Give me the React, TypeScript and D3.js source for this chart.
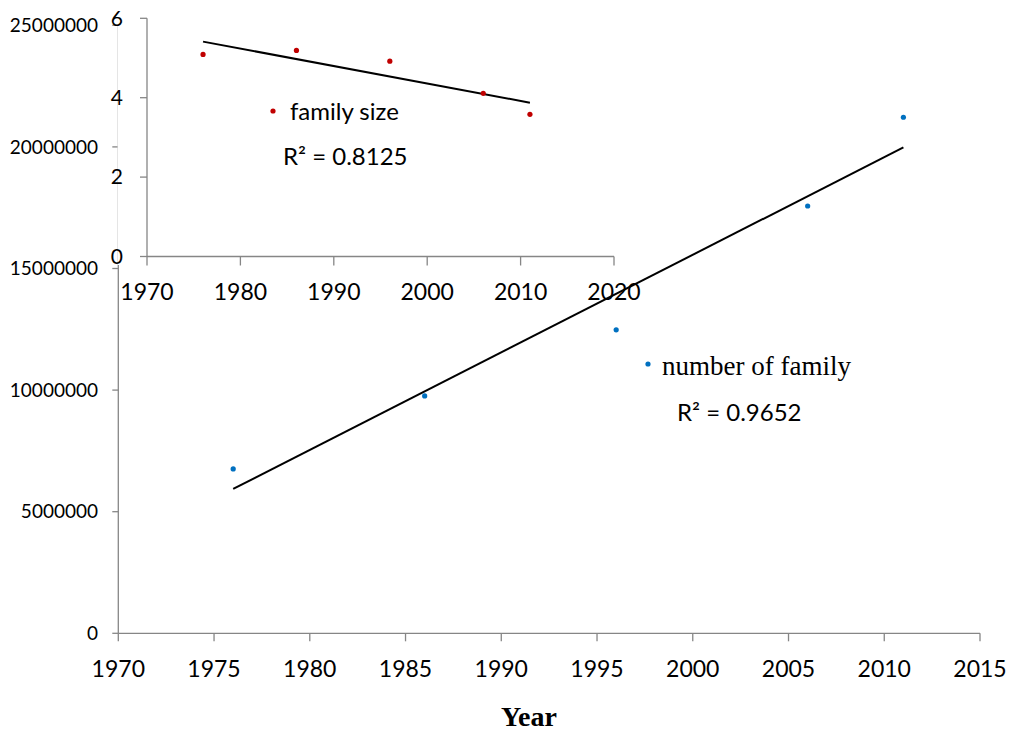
import React from "react";
import * as d3 from "d3";

const years = [1976, 1986, 1996, 2006, 2011];
const numberOfFamily = [6760000, 9760000, 12480000, 17570000, 21220000];
const familySize = [5.09, 5.19, 4.92, 4.11, 3.58];

const mainXTicks = [1970, 1975, 1980, 1985, 1990, 1995, 2000, 2005, 2010, 2015];
const mainYTicks = [0, 5000000, 10000000, 15000000, 20000000, 25000000];
const insetXTicks = [1970, 1980, 1990, 2000, 2010, 2020];
const insetYTicks = [0, 2, 4, 6];

const W = 1010;
const H = 734;
const AXIS = "#868686";
const SANS = "Lato, 'Open Sans', sans-serif";
const SERIF = "'Liberation Serif', 'Times New Roman', serif";

function fit(xs: number[], ys: number[]) {
  const mx = d3.mean(xs) as number;
  const my = d3.mean(ys) as number;
  let sxy = 0, sxx = 0;
  xs.forEach((x, i) => {
    sxy += (x - mx) * (ys[i] - my);
    sxx += (x - mx) * (x - mx);
  });
  const b = sxy / sxx;
  const a = my - b * mx;
  return (x: number) => a + b * x;
}

export default function App() {
  const x = d3.scaleLinear().domain([1970, 2015]).range([118.3, 980]);
  const y = d3.scaleLinear().domain([0, 25000000]).range([633.3, 25.3]);
  const ix = d3.scaleLinear().domain([1970, 2020]).range([147, 614]);
  const iy = d3.scaleLinear().domain([0, 6]).range([256.5, 18.3]);

  const mainFit = fit(years, numberOfFamily);
  const insetFit = fit(years, familySize);
  const x0 = years[0];
  const x1 = years[years.length - 1];
  const line = d3.line<[number, number]>();

  const mainTrend = line([
    [x(x0), y(mainFit(x0))],
    [x(x1), y(mainFit(x1))],
  ]) as string;
  const insetTrend = line([
    [ix(x0), iy(insetFit(x0))],
    [ix(x1), iy(insetFit(x1))],
  ]) as string;

  return (
    <svg
      width={W}
      height={H}
      style={{ position: "absolute", left: 0, top: 0, background: "#fff" }}
    >
      <rect x={0} y={0} width={W} height={H} fill="#fff" />
      {/* main axes */}
      <g>
        <line x1={x(1970)} x2={x(2015)} y1={y(0)} y2={y(0)} stroke={AXIS} strokeWidth={1.3} />
        <line x1={x(1970)} x2={x(1970)} y1={y(0)} y2={y(25000000)} stroke={AXIS} strokeWidth={1.3} />
        {mainXTicks.map((t) => (
          <g key={"mx" + t}>
            <line x1={x(t)} x2={x(t)} y1={y(0)} y2={y(0) + 8} stroke={AXIS} strokeWidth={1.3} />
            <text x={x(t)} y={677} textAnchor="middle" fontFamily={SANS} fontSize={23} fill="#000">
              {t}
            </text>
          </g>
        ))}
        {mainYTicks.map((t) => (
          <g key={"my" + t}>
            <line x1={x(1970) - 6} x2={x(1970)} y1={y(t)} y2={y(t)} stroke={AXIS} strokeWidth={1.3} />
            <text x={98} y={y(t)} dy="0.35em" textAnchor="end" fontFamily={SANS} fontSize={19} fill="#000">
              {String(t)}
            </text>
          </g>
        ))}
      </g>
      {/* main data */}
      <path d={mainTrend} stroke="#000" strokeWidth={2} fill="none" />
      {years.map((yr, i) => (
        <circle key={"b" + yr} cx={x(yr)} cy={y(numberOfFamily[i])} r={2.6} fill="#0070C0" />
      ))}
      <circle cx={648} cy={364} r={2.6} fill="#0070C0" />
      <text x={662} y={375} fontFamily={SERIF} fontSize={27} fill="#000">
        number of family
      </text>
      <text x={677} y={421} fontFamily={SANS} fontSize={24} fill="#000">
        R² = 0.9652
      </text>
      <text x={529} y={726} textAnchor="middle" fontFamily={SERIF} fontWeight="bold" fontSize={28} fill="#000">
        Year
      </text>

      {/* inset chart */}
      <rect x={117.6} y={0} width={508} height={265} fill="#fff" />
      <line x1={ix(1970)} x2={ix(2020)} y1={iy(0)} y2={iy(0)} stroke={AXIS} strokeWidth={1.3} />
      <line x1={ix(1970)} x2={ix(1970)} y1={iy(0)} y2={iy(6)} stroke={AXIS} strokeWidth={1.3} />
      {insetXTicks.map((t) => (
        <g key={"ix" + t}>
          <line x1={ix(t)} x2={ix(t)} y1={iy(0)} y2={iy(0) + 9} stroke={AXIS} strokeWidth={1.3} />
          <text x={ix(t)} y={300} textAnchor="middle" fontFamily={SANS} fontSize={23} fill="#000">
            {t}
          </text>
        </g>
      ))}
      {insetYTicks.map((t) => (
        <g key={"iy" + t}>
          <line x1={ix(1970) - 7} x2={ix(1970)} y1={iy(t)} y2={iy(t)} stroke={AXIS} strokeWidth={1.3} />
          <text x={123} y={iy(t)} dy="0.35em" textAnchor="end" fontFamily={SANS} fontSize={21} fill="#000">
            {t}
          </text>
        </g>
      ))}
      <path d={insetTrend} stroke="#000" strokeWidth={2} fill="none" />
      {years.map((yr, i) => (
        <circle key={"r" + yr} cx={ix(yr)} cy={iy(familySize[i])} r={2.6} fill="#C00000" />
      ))}
      <circle cx={273} cy={111} r={2.6} fill="#C00000" />
      <text x={290} y={120} fontFamily={SANS} fontSize={24} fill="#000">
        family size
      </text>
      <text x={283} y={165} fontFamily={SANS} fontSize={24} fill="#000">
        R² = 0.8125
      </text>
    </svg>
  );
}
